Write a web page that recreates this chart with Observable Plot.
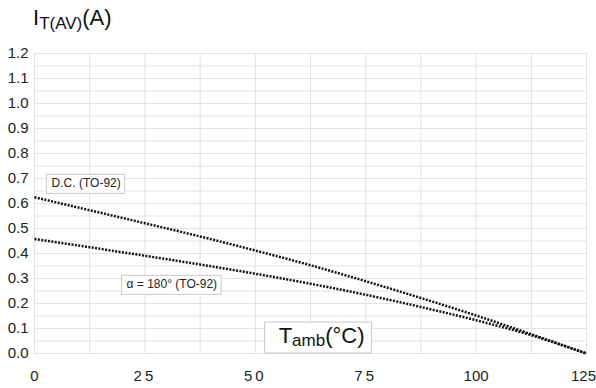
<!DOCTYPE html>
<html><head><meta charset="utf-8">
<script src="https://cdn.jsdelivr.net/npm/d3@7"></script>
<script src="https://cdn.jsdelivr.net/npm/@observablehq/plot@0.6"></script>
<style>
body{margin:0;background:#fff;font-family:"Liberation Sans",Arial,sans-serif}
</style>
</head><body><div id="chart"></div>
<script>
// Ambient temperature (°C)
const temps = [0, 12.5, 25, 37.5, 50, 62.5, 75, 87.5, 100, 112.5, 125];
// Average on-state current IT(AV) (A)
const dcCurrent    = [0.625, 0.573, 0.521, 0.468, 0.412, 0.353, 0.289, 0.222, 0.152, 0.077, 0.0];
const alphaCurrent = [0.458, 0.425, 0.391, 0.356, 0.319, 0.279, 0.235, 0.186, 0.133, 0.073, 0.0];
const seriesNames = ["D.C. (TO-92)", "α = 180° (TO-92)"];

const xTicks = [0, 25, 50, 75, 100, 125];
const xGrid = [0, 12.5, 25, 37.5, 50, 62.5, 75, 87.5, 100, 112.5, 125];
const yTicks = [0, 0.1, 0.2, 0.3, 0.4, 0.5, 0.6, 0.7, 0.8, 0.9, 1.0, 1.1, 1.2];
const yGrid = [0, 0.05, 0.1, 0.15, 0.2, 0.25, 0.3, 0.35, 0.4, 0.45, 0.5, 0.55, 0.6, 0.65, 0.7, 0.75, 0.8, 0.85, 0.9, 0.95, 1.0, 1.05, 1.1, 1.15, 1.2];

// label anchors (data units)
const labelX = [11.7, 31.1];
const labelY = [0.68, 0.276];

const rows = [];
temps.forEach((t, i) => {
  rows.push({t, v: dcCurrent[i], s: seriesNames[0]});
  rows.push({t, v: alphaCurrent[i], s: seriesNames[1]});
});
const labels = seriesNames.map((s, i) => ({x: labelX[i], y: labelY[i], s}));

const chart = Plot.plot({
  width: 596, height: 388,
  marginLeft: 34, marginRight: 10, marginTop: 53, marginBottom: 35,
  style: {fontFamily: '"Liberation Sans", Arial, sans-serif', color: "#222", background: "#fff", overflow: "visible"},
  x: {domain: [0, 125]},
  y: {domain: [0, 1.2]},
  marks: [
    Plot.gridX(xGrid, {stroke: "#e2e2e2", strokeOpacity: 1}),
    Plot.gridY(yGrid, {stroke: "#e2e2e2", strokeOpacity: 1}),
    Plot.axisY(yTicks, {tickSize: 0, tickPadding: 6, fontSize: 15, tickFormat: d => d.toFixed(1), label: null, fill: "#222"}),
    Plot.axisX(xTicks, {tickSize: 0, tickPadding: 17, fontSize: 15, label: null, fill: "#222"}),
    Plot.line(rows, {x: "t", y: "v", z: "s", stroke: "#111", strokeWidth: 2.5, strokeDasharray: "2,1.4", strokeLinecap: "butt", curve: "monotone-x"}),
    Plot.text(labels, {x: "x", y: "y", text: "s", fontSize: 12, fill: "#222", textAnchor: "middle"})
  ]
});
document.getElementById("chart").appendChild(chart);

const svg = d3.select(chart);
// boxes behind series labels
svg.selectAll("text").filter(function() { return seriesNames.includes(this.textContent); }).each(function() {
  const b = this.getBBox();
  const node = this;
  const r = document.createElementNS("http://www.w3.org/2000/svg", "rect");
  r.setAttribute("x", b.x - 5); r.setAttribute("y", b.y - 2);
  r.setAttribute("width", b.width + 9); r.setAttribute("height", b.height + 5);
  r.setAttribute("fill", "#fff"); r.setAttribute("stroke", "#c8c8c8"); r.setAttribute("stroke-width", 1);
  const tr = node.getAttribute("transform");
  if (tr) r.setAttribute("transform", tr);
  node.parentNode.insertBefore(r, node);
});
// letter spacing / nudges on x tick labels as in the reference
svg.selectAll("text").each(function() {
  const t = this.textContent;
  if (t === "25" || t === "50" || t === "75") d3.select(this).attr("letter-spacing", "3px");
  if (t === "125") d3.select(this).attr("dx", -3);
});

const xs = chart.scale("x"), ys = chart.scale("y");
// x-axis title box with subscript
const tg = svg.append("g");
const tx = tg.append("text")
  .attr("x", xs.apply(55.4)).attr("y", ys.apply(0.04))
  .attr("text-anchor", "start")
  .attr("fill", "#111").attr("font-size", 22);
tx.append("tspan").text("T");
tx.append("tspan").attr("font-size", 17).attr("dy", 3).text("amb");
tx.append("tspan").attr("dy", -3).text("(°C)");
const tb = tx.node().getBBox();
tg.insert("rect", "text")
  .attr("x", tb.x - 14).attr("y", tb.y - 1).attr("width", tb.width + 21).attr("height", tb.height + 4)
  .attr("fill", "#fff").attr("stroke", "#c8c8c8");

// y-axis title with subscript
const yt = svg.append("text").attr("x", 33).attr("y", 25).attr("text-anchor", "start")
  .attr("fill", "#111").attr("font-size", 22);
yt.append("tspan").text("I");
yt.append("tspan").attr("font-size", 17).attr("dy", 4).text("T(AV)");
yt.append("tspan").attr("dy", -4).text("(A)");
</script>
</body></html>
